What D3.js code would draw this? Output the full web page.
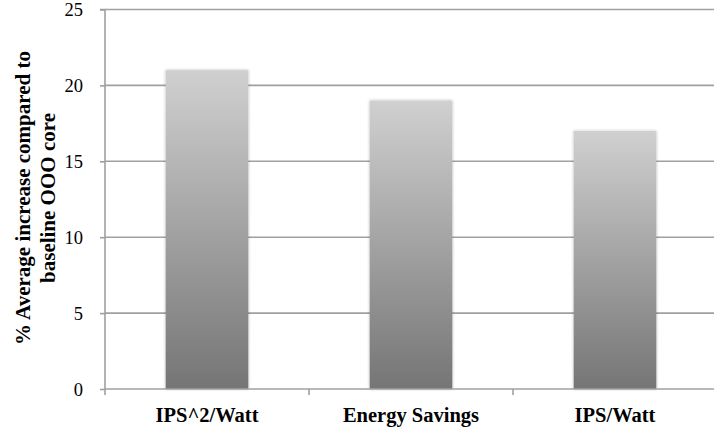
<!DOCTYPE html>
<html><head><meta charset="utf-8">
<script src="https://cdn.jsdelivr.net/npm/d3@7"></script>
<style>body{margin:0;background:#fff}svg{display:block}svg text{font-family:"Liberation Serif","Times New Roman",serif}</style>
</head><body>
<svg id="c" width="714" height="432"></svg>
<script>
const categories = ["IPS^2/Watt", "Energy Savings", "IPS/Watt"];
const values = [21, 19, 17];
const yTicks = [0, 5, 10, 15, 20, 25];
const yTitle = ["% Average increase compared to", "baseline OOO core"];

(function () {
const svg = d3.select("#c");
const FF = '"Liberation Serif","Times New Roman",serif';
const mLeft = 105, mRight = 717, mTop = 9.5, mBottom = 389;
const x = d3.scaleBand().domain(categories).range([mLeft, mRight]).paddingInner(0).paddingOuter(0);
const y = d3.scaleLinear().domain([0, 25]).range([mBottom, mTop]);

const defs = svg.append("defs");
const g = defs.append("linearGradient").attr("id", "gr").attr("x1", 0).attr("y1", 0).attr("x2", 0).attr("y2", 1);
g.append("stop").attr("offset", "0%").attr("stop-color", "#d0d0d0");
g.append("stop").attr("offset", "100%").attr("stop-color", "#757575");
const f = defs.append("filter").attr("id", "sh").attr("x", "-20%").attr("y", "-10%").attr("width", "140%").attr("height", "120%");
f.append("feGaussianBlur").attr("in", "SourceAlpha").attr("stdDeviation", 1.5).attr("result", "b");
f.append("feComponentTransfer").attr("in", "b").attr("result", "o2").append("feFuncA").attr("type", "linear").attr("slope", 0.3);
const m = f.append("feMerge");
m.append("feMergeNode").attr("in", "o2");
m.append("feMergeNode").attr("in", "SourceGraphic");

// gridlines
svg.append("g").selectAll("line").data(yTicks.filter(d => d > 0)).join("line")
  .attr("x1", mLeft).attr("x2", 714).attr("y1", d => y(d)).attr("y2", d => y(d))
  .attr("stroke", "#a0a0a0").attr("stroke-width", 1.6);

// y axis
const ya = svg.append("g").attr("transform", `translate(${mLeft},0)`)
  .call(d3.axisLeft(y).tickValues(yTicks).tickSize(5).tickPadding(17));
ya.attr("font-family", null).attr("font-size", null);
ya.select(".domain").attr("stroke", "#a0a0a0").attr("stroke-width", 1.6).attr("d", `M-5,${mTop}H0V${mBottom}`);
ya.selectAll(".tick line").attr("stroke", "#a0a0a0").attr("stroke-width", 1.6);
ya.selectAll(".tick text").style("font-family", FF)
  .style("font-size", "18.5px").attr("fill", "#000").attr("dy", "0.33em");

// bars
const bw = x.bandwidth() * 0.405;
svg.append("g").selectAll("rect").data(values).join("rect")
  .attr("x", (d, i) => x(categories[i]) + (x.bandwidth() - bw) / 2)
  .attr("width", bw)
  .attr("y", d => y(d)).attr("height", d => y(0) - y(d))
  .attr("fill", "url(#gr)").attr("filter", "url(#sh)");

// x axis
const xa = svg.append("g").attr("transform", `translate(0,${mBottom})`);
xa.append("line").attr("x1", mLeft).attr("x2", 714).attr("stroke", "#a0a0a0").attr("stroke-width", 1.6);
xa.selectAll("line.t").data([mLeft, ...categories.map(c => x(c) + x.bandwidth())]).join("line")
  .attr("class", "t").attr("x1", d => d).attr("x2", d => d).attr("y1", 0).attr("y2", 6)
  .attr("stroke", "#a0a0a0").attr("stroke-width", 1.6);
xa.selectAll("text").data(categories).join("text")
  .attr("x", d => x(d) + x.bandwidth() / 2).attr("y", 33)
  .attr("text-anchor", "middle").style("font-family", FF)
  .style("font-weight", "bold").style("font-size", "20.5px").text(d => d);

// y title
const t = svg.append("text").attr("transform", "translate(30,198) rotate(-90)")
  .attr("text-anchor", "middle").style("font-family", FF)
  .style("font-weight", "bold").style("font-size", "21px");
yTitle.forEach((s, i) => t.append("tspan").attr("x", 0).attr("y", i * 25).text(s));
})();
</script>
</body></html>
